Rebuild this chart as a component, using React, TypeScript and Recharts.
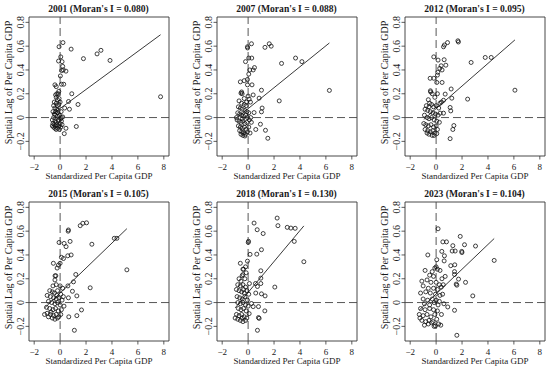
import React from "react"
import { ScatterChart, Scatter, XAxis, YAxis, ReferenceLine, ReferenceArea } from "recharts"

// Moran scatter plots, one panel per year
const years = ["2001", "2007", "2012", "2015", "2018", "2023"]
const moranI = [0.08, 0.088, 0.095, 0.105, 0.13, 0.104]
const intercepts = [0.076, 0.075, 0.075, 0.08, 0.085, 0.072]

const xTicks = [-2, 0, 2, 4, 6, 8]
const yTicks = [-0.2, 0, 0.2, 0.4, 0.6, 0.8]
const xDomain = [-2.4, 8.4]
const yDomain = [-0.323, 0.845]

const p2001 = [
  [0.22, 0.63], [-0.08, 0.595], [0.85, 0.575], [2.85, 0.535], [3.15, 0.565], [1.8, 0.495], [3.85, 0.48],
  [-0.12, 0.475], [0.05, 0.51], [0.15, 0.47], [0.2, 0.43], [0.24, 0.4], [0.45, 0.39], [0.12, 0.395],
  [0.02, 0.35], [0.1, 0.28], [0.28, 0.28], [-0.4, 0.275], [-0.3, 0.26], [0.9, 0.2], [7.75, 0.175],
  [0.65, 0.135], [1.38, 0.11], [0.35, 0.08], [0.72, 0.07], [1.25, -0.075], [0.45, -0.09], [0.32, -0.135],
  [-0.1, 0.22], [-0.25, 0.2], [-0.35, 0.19], [-0.15, 0.2], [-0.3, 0.17], [-0.2, 0.15], [-0.45, 0.13],
  [-0.3, 0.12], [-0.1, 0.11], [0.0, 0.13], [-0.5, 0.1], [-0.4, 0.08], [-0.25, 0.07], [-0.15, 0.06],
  [-0.55, 0.05], [-0.45, 0.03], [-0.35, 0.02], [-0.2, 0.01], [-0.05, 0.02], [0.1, 0.0], [0.2, 0.005],
  [0.05, -0.01], [-0.5, 0.0], [-0.6, -0.02], [-0.4, -0.03], [-0.3, -0.04], [-0.15, -0.03], [-0.55, -0.05],
  [-0.45, -0.06], [-0.35, -0.07], [-0.25, -0.06], [-0.1, -0.07], [0.0, -0.05], [-0.5, -0.08], [-0.4, -0.09],
  [-0.2, -0.09], [-0.6, -0.07], [0.1, -0.03], [0.15, -0.06], [-0.3, -0.1], [-0.05, -0.1], [0.05, -0.08],
  [-0.35, 0.05], [-0.2, 0.04], [-0.08, 0.16], [-0.22, 0.1], [0.08, 0.05], [-0.12, -0.02],
]

const p2007 = [
  [0.26, 0.62], [-0.05, 0.595], [-0.04, 0.585], [1.3, 0.59], [1.63, 0.62], [1.78, 0.6], [0.05, 0.5],
  [0.28, 0.5], [-0.2, 0.47], [3.66, 0.5], [4.15, 0.47], [2.58, 0.455], [0.13, 0.4], [0.39, 0.4],
  [0.49, 0.42], [0.05, 0.365], [-0.05, 0.32], [-0.3, 0.31], [-0.6, 0.3], [0.3, 0.275], [-0.05, 0.275],
  [-0.5, 0.215], [-0.46, 0.2], [-0.55, 0.205], [0.39, 0.19], [1.03, 0.23], [0.0, 0.18], [0.08, 0.155],
  [0.85, 0.163], [2.4, 0.14], [0.18, 0.13], [1.08, 0.08], [1.03, 0.048], [0.46, 0.042], [6.27, 0.228],
  [0.05, 0.04], [0.95, -0.056], [0.59, -0.1], [1.34, -0.107], [1.52, -0.174], [0.15, -0.13],
  [-0.7, 0.14], [-0.5, 0.12], [-0.3, 0.11], [-0.15, 0.1], [-0.75, 0.09], [-0.6, 0.08], [-0.45, 0.07],
  [-0.25, 0.06], [-0.1, 0.05], [-0.8, 0.04], [-0.65, 0.03], [-0.5, 0.02], [-0.35, 0.01], [-0.2, 0.02],
  [-0.05, 0.0], [-0.85, -0.02], [-0.7, -0.03], [-0.55, -0.04], [-0.4, -0.03], [-0.25, -0.05], [-0.1, -0.04],
  [-0.75, -0.07], [-0.6, -0.08], [-0.45, -0.09], [-0.3, -0.08], [-0.15, -0.1], [0.05, -0.08], [-0.65, -0.11],
  [-0.5, -0.12], [-0.35, -0.13], [-0.2, -0.14], [-0.05, -0.12], [-0.4, -0.15], [-0.25, -0.155], [-0.55, -0.14],
  [0.1, -0.02], [0.2, 0.0], [0.25, -0.04], [-0.9, 0.0], [-0.3, 0.16], [-0.12, 0.13], [-0.45, -0.01],
]

const p2012 = [
  [0.57, 0.595], [0.64, 0.61], [0.88, 0.63], [1.68, 0.645], [1.72, 0.635], [-0.18, 0.51], [0.15, 0.483],
  [0.62, 0.486], [0.75, 0.44], [0.39, 0.435], [0.28, 0.413], [0.46, 0.4], [0.13, 0.38], [0.1, 0.357],
  [-0.46, 0.33], [-0.18, 0.33], [0.05, 0.295], [0.46, 0.295], [3.79, 0.505], [4.25, 0.505], [2.7, 0.463],
  [-0.44, 0.225], [-0.42, 0.215], [0.7, 0.197], [1.16, 0.24], [1.21, 0.163], [2.43, 0.155], [6.08, 0.23],
  [0.41, 0.13], [0.57, 0.145], [0.31, 0.037], [0.57, 0.037], [1.08, 0.085], [1.13, 0.056], [1.37, -0.067],
  [1.29, -0.1], [1.08, -0.177],
  [-0.6, 0.15], [-0.3, 0.2], [-0.1, 0.17], [0.1, 0.2], [-0.75, 0.1], [-0.5, 0.12], [-0.35, 0.11],
  [-0.2, 0.09], [0.0, 0.1], [0.2, 0.08], [-0.85, 0.07], [-0.65, 0.06], [-0.45, 0.05], [-0.25, 0.04],
  [-0.05, 0.03], [0.15, 0.02], [-0.9, 0.02], [-0.7, 0.0], [-0.55, -0.01], [-0.35, 0.0], [-0.15, -0.02],
  [0.05, -0.03], [0.25, -0.04], [-0.95, -0.05], [-0.8, -0.06], [-0.6, -0.07], [-0.4, -0.06], [-0.2, -0.08],
  [0.0, -0.07], [-0.85, -0.1], [-0.65, -0.11], [-0.45, -0.12], [-0.25, -0.11], [-0.1, -0.13], [0.1, -0.1],
  [-0.55, -0.14], [-0.3, -0.15], [-0.15, -0.15], [0.05, -0.135], [-0.7, -0.13], [0.3, 0.12], [-0.55, 0.09],
]

const p2015 = [
  [1.55, 0.646], [1.75, 0.666], [2.04, 0.67], [0.64, 0.61], [0.62, 0.6], [-0.08, 0.505], [0.31, 0.497],
  [0.77, 0.514], [0.46, 0.47], [2.45, 0.49], [4.18, 0.54], [4.38, 0.54], [0.59, 0.393], [0.85, 0.4],
  [0.26, 0.37], [0.1, 0.38], [-0.52, 0.33], [-0.13, 0.315], [0.0, 0.33], [-0.23, 0.29], [-0.39, 0.225],
  [-0.33, 0.225], [1.21, 0.236], [5.15, 0.275], [2.32, 0.124], [1.03, 0.174], [1.29, 0.056], [0.64, 0.04],
  [0.95, 0.095], [0.6, 0.14], [1.65, -0.062], [1.29, -0.11], [0.67, -0.12], [1.1, -0.233],
  [-0.4, 0.19], [-0.55, 0.14], [-0.3, 0.15], [0.0, 0.14], [0.2, 0.12], [-0.8, 0.1], [-0.6, 0.09],
  [-0.45, 0.08], [-0.2, 0.1], [0.05, 0.07], [-1.0, 0.06], [-0.75, 0.05], [-0.5, 0.04], [-0.3, 0.03],
  [-0.1, 0.04], [0.15, 0.02], [-0.9, 0.01], [-0.65, 0.0], [-0.4, -0.01], [-0.2, 0.0], [0.0, -0.02],
  [0.3, -0.03], [-1.05, -0.04], [-0.8, -0.05], [-0.55, -0.06], [-0.35, -0.05], [-0.15, -0.07], [0.1, -0.06],
  [-1.2, -0.1], [-1.0, -0.09], [-0.75, -0.1], [-0.5, -0.11], [-0.3, -0.1], [-0.1, -0.12], [-0.9, -0.12],
  [-0.6, -0.13], [-0.4, -0.14], [-0.2, -0.13], [0.05, -0.1], [-0.7, -0.08], [0.25, 0.05], [-0.25, 0.06],
]

const p2018 = [
  [2.24, 0.71], [2.3, 0.646], [0.46, 0.668], [0.7, 0.612], [1.16, 0.58], [3.02, 0.632], [3.3, 0.626],
  [3.63, 0.624], [3.56, 0.514], [4.3, 0.343], [0.03, 0.515], [0.01, 0.505], [0.15, 0.405], [0.67, 0.407],
  [1.03, 0.444], [-0.05, 0.348], [-0.2, 0.3], [-0.35, 0.28], [-0.46, 0.225], [-0.4, 0.235], [0.98, 0.267],
  [0.98, 0.205], [0.98, 0.16], [0.57, 0.16], [0.72, 0.135], [2.06, 0.13], [1.03, 0.073], [1.31, 0.056],
  [0.59, 0.08], [0.26, -0.008], [0.39, -0.034], [0.8, -0.034], [1.29, -0.07], [0.8, -0.126], [0.85, -0.133],
  [0.72, -0.233], [0.08, -0.093],
  [-0.6, 0.33], [-0.4, 0.28], [-0.15, 0.25], [-0.7, 0.2], [-0.55, 0.18], [-0.25, 0.2], [-0.8, 0.15],
  [-0.6, 0.14], [-0.4, 0.15], [-0.2, 0.13], [0.1, 0.16], [-0.9, 0.11], [-0.7, 0.1], [-0.5, 0.09],
  [-0.3, 0.08], [-0.1, 0.1], [-0.85, 0.05], [-0.65, 0.04], [-0.45, 0.03], [-0.25, 0.05], [-0.05, 0.02],
  [-0.8, 0.0], [-0.6, -0.01], [-0.4, 0.0], [-0.2, -0.02], [0.0, -0.03], [-0.75, -0.05], [-0.55, -0.06],
  [-0.35, -0.05], [-0.15, -0.07], [-0.9, -0.1], [-0.7, -0.11], [-0.5, -0.1], [-0.3, -0.12], [-0.1, -0.13],
  [-1.0, -0.13], [-0.8, -0.14], [-0.6, -0.15], [-0.4, -0.16], [-0.2, -0.15], [-0.45, -0.13], [0.05, 0.07],
  [-0.35, 0.11],
]

const p2023 = [
  [0.15, 0.62], [1.86, 0.556], [0.52, 0.51], [0.8, 0.51], [1.29, 0.478], [2.19, 0.486], [3.04, 0.475],
  [1.24, 0.433], [1.47, 0.433], [1.98, 0.43], [1.99, 0.42], [0.44, 0.43], [0.64, 0.393], [-0.64, 0.4],
  [1.13, 0.31], [1.44, 0.317], [0.62, 0.35], [4.48, 0.354], [-0.85, 0.27], [1.42, 0.26], [1.42, 0.236],
  [1.55, 0.155], [1.6, 0.146], [1.73, 0.197], [2.27, 0.17], [2.83, 0.056], [0.9, -0.037], [1.42, -0.065],
  [1.6, -0.275], [0.41, -0.1], [0.36, -0.19], [-0.05, -0.197],
  [0.0, 0.3], [-0.1, 0.29], [0.1, 0.28], [0.05, 0.36], [-0.3, 0.26], [0.3, 0.27], [-0.5, 0.23],
  [-0.2, 0.22], [0.45, 0.2], [0.7, 0.22], [-1.1, 0.18], [-0.7, 0.19], [-0.4, 0.17], [0.0, 0.17],
  [0.25, 0.15], [0.55, 0.15], [-1.0, 0.14], [-0.6, 0.12], [-0.2, 0.12], [0.1, 0.11], [0.4, 0.13],
  [-1.2, 0.08], [-0.8, 0.09], [-0.45, 0.08], [-0.05, 0.07], [0.3, 0.06], [-1.0, 0.03], [-0.65, 0.02],
  [-0.3, 0.03], [0.0, 0.02], [0.25, 0.01], [-0.9, -0.01], [-0.5, -0.02], [-0.15, 0.0], [0.15, -0.02],
  [-1.2, -0.05], [-0.85, -0.06], [-0.5, -0.05], [-0.2, -0.06], [0.1, -0.07], [-1.3, -0.1], [-1.0, -0.11],
  [-0.7, -0.1], [-0.4, -0.12], [-0.1, -0.1], [-1.1, -0.15], [-0.8, -0.16], [-0.55, -0.15], [-0.25, -0.16],
  [0.05, -0.14], [-0.9, -0.19], [-0.6, -0.18], [-0.35, -0.17], [-0.15, -0.2], [0.2, -0.18], [-1.25, -0.13],
  [0.5, 0.07], [0.6, -0.01],
]

const panelData = [p2001, p2007, p2012, p2015, p2018, p2023]

const boxLefts = [28.5, 216.5, 404.5]
const boxTops = [16.7, 201.7]

const FONT = "Liberation Serif, Times New Roman, serif"
const INK = "#1a1a1a"
const AXIS_W = 28
const TOP = 17
const BOX_W = 140
const BOX_H = 139
const X_H = 28

const fmt = (v: number) => (v < 0 ? `\u2212${Math.abs(v)}` : `${v}`)

function XTick({ x, y, payload }: any) {
  return (
    <text x={x} y={y + 8} textAnchor="middle" fontSize={9} fontFamily={FONT} fill={INK}
      style={{ fontFamily: FONT }}>
      {fmt(payload.value)}
    </text>
  )
}

function XLabel({ viewBox }: any) {
  const cx = viewBox.x + viewBox.width / 2
  return (
    <text x={cx} y={viewBox.y + 22.5} textAnchor="middle" fontSize={9} fontFamily={FONT} fill={INK}
      style={{ fontFamily: FONT }}>
      Standardized Per Capita GDP
    </text>
  )
}

function YTick({ x, y, payload }: any) {
  const tx = x + 1
  return (
    <text x={tx} y={y} transform={`rotate(-90 ${tx} ${y})`} textAnchor="middle"
      fontSize={10} fontFamily={FONT} fill={INK} style={{ fontFamily: FONT }}>
      {fmt(payload.value)}
    </text>
  )
}

function YLabel({ viewBox }: any) {
  const cy = viewBox.y + viewBox.height / 2 - 4
  const x = 11
  return (
    <text x={x} y={cy} transform={`rotate(-90 ${x} ${cy})`} textAnchor="middle"
      fontSize={10} fontFamily={FONT} fill={INK} style={{ fontFamily: FONT }}>
      Spatial Lag of Per Capita GDP
    </text>
  )
}

function Ring(props: any) {
  return <circle cx={props.cx} cy={props.cy} r={2} fill="none" stroke="#111" strokeWidth={0.8} />
}

function MoranPanel({ idx }: { idx: number }) {
  const pts = panelData[idx].map(([x, y]) => ({ x, y }))
  const xs = pts.map((p) => p.x)
  const x0 = Math.min(...xs)
  const x1 = Math.max(...xs)
  const a = intercepts[idx]
  const b = moranI[idx]
  const left = boxLefts[idx % 3]
  const top = boxTops[Math.floor(idx / 3)]

  return (
    <div style={{ position: "absolute", left: left - AXIS_W, top: top - TOP }}>
      <div style={{
        position: "absolute", left: AXIS_W, top: 3, width: BOX_W, textAlign: "center",
        fontFamily: FONT, fontSize: 9.6, lineHeight: "12px", fontWeight: "bold", color: INK,
        whiteSpace: "nowrap",
      }}>
        {years[idx]} (Moran's I = {moranI[idx].toFixed(3)})
      </div>
      <ScatterChart width={AXIS_W + BOX_W + 6} height={TOP + BOX_H + X_H}
        margin={{ top: TOP, right: 6, bottom: 0, left: 0 }}>
        <XAxis type="number" dataKey="x" domain={xDomain} ticks={xTicks} allowDataOverflow
          interval={0} height={X_H} axisLine={false} tickSize={3.5}
          tickLine={{ stroke: "#333", strokeWidth: 0.8 }} tick={<XTick />} label={<XLabel />} />
        <YAxis type="number" dataKey="y" domain={yDomain} ticks={yTicks} allowDataOverflow
          interval={0} width={AXIS_W} axisLine={false} tickSize={3.5} tickMargin={2}
          tickLine={{ stroke: "#333", strokeWidth: 0.8 }} tick={<YTick />} label={<YLabel />} />
        <ReferenceArea x1={xDomain[0]} x2={xDomain[1]} y1={yDomain[0]} y2={yDomain[1]}
          fill="none" stroke="#333" strokeWidth={0.9} ifOverflow="visible" />
        <ReferenceLine x={0} stroke="#444" strokeDasharray="8 4" strokeWidth={0.9} />
        <ReferenceLine y={0} stroke="#444" strokeDasharray="8 4" strokeWidth={0.9} />
        <Scatter data={pts} shape={<Ring />} isAnimationActive={false} />
        <ReferenceLine segment={[{ x: x0, y: a + b * x0 }, { x: x1, y: a + b * x1 }]}
          stroke="#222" strokeWidth={0.9} />
      </ScatterChart>
    </div>
  )
}

export default function App() {
  return (
    <div style={{ position: "absolute", left: 0, top: 0, width: 550, height: 370 }}>
      {years.map((_, i) => (
        <MoranPanel key={i} idx={i} />
      ))}
    </div>
  )
}
